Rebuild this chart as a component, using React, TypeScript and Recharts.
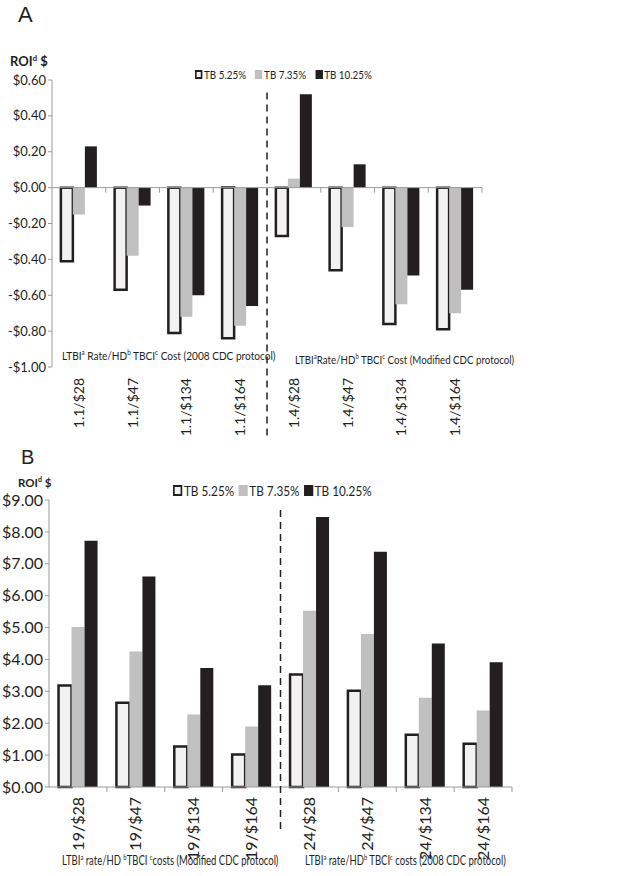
import React from 'react';
import { BarChart, Bar, XAxis, YAxis, ReferenceLine, Legend } from 'recharts';

const seriesNames = ['TB 5.25%', 'TB 7.35%', 'TB 10.25%'];
const seriesKeys = ['tb525', 'tb735', 'tb1025'];

// panel A
const catsA = ['1.1/$28', '1.1/$47', '1.1/$134', '1.1/$164', '1.4/$28', '1.4/$47', '1.4/$134', '1.4/$164'];
const tb525A = [-0.41, -0.57, -0.81, -0.84, -0.27, -0.46, -0.76, -0.79];
const tb735A = [-0.15, -0.38, -0.72, -0.77, 0.05, -0.22, -0.65, -0.7];
const tb1025A = [0.23, -0.1, -0.6, -0.66, 0.52, 0.13, -0.49, -0.57];
const ticksA = [-1, -0.8, -0.6, -0.4, -0.2, 0, 0.2, 0.4, 0.6];

// panel B
const catsB = ['19/$28', '19/$47', '19/$134', '19/$164', '24/$28', '24/$47', '24/$134', '24/$164'];
const tb525B = [3.18, 2.64, 1.27, 1.02, 3.53, 3.02, 1.64, 1.36];
const tb735B = [5.02, 4.25, 2.27, 1.9, 5.53, 4.8, 2.8, 2.4];
const tb1025B = [7.72, 6.6, 3.73, 3.19, 8.47, 7.38, 4.5, 3.91];
const ticksB = [0, 1, 2, 3, 4, 5, 6, 7, 8, 9];

const INK = '#231f20';
const fills = ['#f2f2f2', '#c0c0c0', INK];
const FONT = 'Lato, "Open Sans", sans-serif';

const money = (v: number) => (v < 0 ? '-$' : '$') + Math.abs(v).toFixed(2);

const build = (cats: string[], a: number[], b: number[], c: number[]) =>
  cats.map((cat, i) => ({ cat, tb525: a[i], tb735: b[i], tb1025: c[i] }));

const Sup = ({ children }: { children: React.ReactNode }) => (
  <span style={{ fontSize: '0.62em', verticalAlign: 'super', lineHeight: 0 }}>{children}</span>
);

const LegendBox = ({ fontSize, sw, gap, squeeze }: { fontSize: number; sw: number; gap: number; squeeze: number }) => (
  <div
    style={{
      display: 'flex',
      alignItems: 'center',
      fontFamily: FONT,
      fontSize,
      color: INK,
      whiteSpace: 'nowrap',
      transform: `scaleX(${squeeze})`,
      transformOrigin: 'left center',
    }}
  >
    {seriesNames.map((name, i) => (
      <span key={name} style={{ display: 'flex', alignItems: 'center', marginRight: gap }}>
        <span
          style={{
            display: 'inline-block',
            width: sw,
            height: sw,
            boxSizing: 'border-box',
            background: fills[i],
            border: i === 0 ? `2px solid ${INK}` : 'none',
            marginRight: 2,
          }}
        />
        {name}
      </span>
    ))}
  </div>
);

const CatTick = (props: any) => {
  const { x, y, payload, fontSize, offset } = props;
  return (
    <text
      transform={`translate(${x + fontSize * 0.35},${y + offset}) rotate(-90)`}
      textAnchor="end"
      fontSize={fontSize}
      fontFamily={FONT}
      fill={INK}
    >
      {payload.value}
    </text>
  );
};

interface PanelProps {
  data: any[];
  ticks: number[];
  height: number;
  margin: { top: number; right: number; bottom: number; left: number };
  yWidth: number;
  yFont: number;
  xFont: number;
  xOffset: number;
  tickLen: number;
  dashTop: number;
  dashBottom: number;
  legendPos: { top: number; left: number };
  legendFont: number;
  legendSw: number;
  legendGap: number;
  legendSqueeze: number;
}

const Panel = (p: PanelProps) => {
  const n = p.data.length;
  return (
    <BarChart
      width={624}
      height={p.height}
      data={p.data}
      margin={p.margin}
      barCategoryGap="16.5%"
      barGap={0}
    >
      <XAxis
        dataKey="cat"
        axisLine={false}
        tickLine={false}
        tickSize={0}
        tickMargin={0}
        height={60}
        interval={0}
        tick={<CatTick fontSize={p.xFont} offset={p.xOffset} />}
      />
      <YAxis
        domain={[p.ticks[0], p.ticks[p.ticks.length - 1]]}
        ticks={p.ticks}
        interval={0}
        width={p.yWidth}
        tickFormatter={money}
        axisLine={{ stroke: '#9a9a9a' }}
        tickLine={{ stroke: '#9a9a9a' }}
        tickSize={4}
        tickMargin={2}
        tick={{ fontSize: p.yFont, fontFamily: FONT, fill: INK }}
      />
      <ReferenceLine y={0} stroke="#9a9a9a" />
      {p.data.map((d) => (
        <ReferenceLine
          key={d.cat}
          position="end"
          segment={[{ x: d.cat, y: 0 }, { x: d.cat, y: -p.tickLen }]}
          stroke="#9a9a9a"
          ifOverflow="visible"
        />
      ))}
      <ReferenceLine
        position="end"
        segment={[{ x: p.data[n / 2 - 1].cat, y: p.dashTop }, { x: p.data[n / 2 - 1].cat, y: p.dashBottom }]}
        stroke={INK}
        strokeWidth={1.5}
        strokeDasharray="7 5"
        ifOverflow="visible"
      />
      {seriesKeys.map((k, i) => (
        <Bar
          key={k}
          dataKey={k}
          name={seriesNames[i]}
          fill={fills[i]}
          stroke={i === 0 ? INK : 'none'}
          strokeWidth={i === 0 ? 2.5 : 0}
          isAnimationActive={false}
        />
      ))}
      <Legend
        layout="horizontal"
        verticalAlign="middle"
        align="center"
        wrapperStyle={{ position: 'absolute', top: p.legendPos.top, left: p.legendPos.left, width: 'auto' }}
        content={() => (
          <LegendBox fontSize={p.legendFont} sw={p.legendSw} gap={p.legendGap} squeeze={p.legendSqueeze} />
        )}
      />
    </BarChart>
  );
};

const abs = (left: number, top: number, extra: React.CSSProperties = {}): React.CSSProperties => ({
  position: 'absolute',
  left,
  top,
  whiteSpace: 'nowrap',
  color: INK,
  fontFamily: FONT,
  transformOrigin: 'left center',
  ...extra,
});

export default function App() {
  const dataA = build(catsA, tb525A, tb735A, tb1025A);
  const dataB = build(catsB, tb525B, tb735B, tb1025B);
  return (
    <div style={{ position: 'absolute', left: 0, top: 0, width: 624, height: 876, background: '#fff', overflow: 'hidden' }}>
      <div style={{ position: 'absolute', left: 0, top: 0 }}>
        <Panel
          data={dataA}
          ticks={ticksA}
          height={440}
          margin={{ top: 80, right: 142, bottom: 13, left: 0 }}
          yWidth={52}
          yFont={13}
          xFont={14}
          xOffset={11}
          tickLen={0.028}
          dashTop={0.53}
          dashBottom={-1.39}
          legendPos={{ top: 67, left: 195 }}
          legendFont={12}
          legendSw={9}
          legendGap={11}
          legendSqueeze={0.82}
        />
      </div>
      <div style={{ position: 'absolute', left: 0, top: 440 }}>
        <Panel
          data={dataB}
          ticks={ticksB}
          height={436}
          margin={{ top: 60, right: 112, bottom: 29, left: 0 }}
          yWidth={49}
          yFont={16}
          xFont={16}
          xOffset={10}
          tickLen={0.16}
          dashTop={8.69}
          dashBottom={-1.41}
          legendPos={{ top: 42, left: 173 }}
          legendFont={14}
          legendSw={11}
          legendGap={5}
          legendSqueeze={0.84}
        />
      </div>

      <div style={abs(18, 2, { fontFamily: '"Liberation Sans", Arial, sans-serif', fontSize: 22 })}>A</div>
      <div style={abs(10, 53, { fontSize: 13, fontWeight: 700 })}>
        ROI<Sup>d</Sup> $
      </div>
      <div style={abs(62, 348, { fontSize: 12, transform: 'scaleX(0.84)' })}>
        LTBI<Sup>a</Sup> Rate/HD<Sup>b</Sup> TBCI<Sup>c</Sup> Cost (2008 CDC protocol)
      </div>
      <div style={abs(295, 352, { fontSize: 12, transform: 'scaleX(0.81)' })}>
        LTBI<Sup>a</Sup>Rate/HD<Sup>b</Sup> TBCI<Sup>c</Sup> Cost (Modified CDC protocol)
      </div>

      <div style={abs(21, 446, { fontFamily: '"Liberation Sans", Arial, sans-serif', fontSize: 20 })}>B</div>
      <div style={abs(18, 476, { fontSize: 11.5, fontWeight: 700 })}>
        ROI<Sup>d</Sup> $
      </div>
      <div style={abs(62, 852, { fontSize: 13, transform: 'scaleX(0.73)' })}>
        LTBI<Sup>a</Sup> rate/HD <Sup>b</Sup>TBCI <Sup>c</Sup>costs (Modified CDC protocol)
      </div>
      <div style={abs(305, 852, { fontSize: 13, transform: 'scaleX(0.73)' })}>
        LTBI<Sup>a</Sup> rate/HD<Sup>b</Sup> TBCI<Sup>c</Sup> costs (2008 CDC protocol)
      </div>
    </div>
  );
}
